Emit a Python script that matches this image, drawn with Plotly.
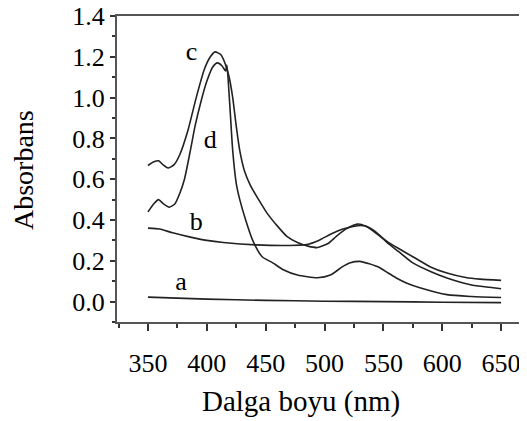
import plotly.graph_objects as go

# --- data ---
a_x = [350, 400, 450, 500, 550, 600, 650]
a_y = [0.022, 0.012, 0.006, 0.002, 0.0, -0.003, -0.005]

b_x = [350, 360, 371, 386, 400, 414, 442, 470, 485, 495, 505, 515, 528, 535, 545, 553, 563, 575, 590, 604, 624, 640, 650]
b_y = [0.36, 0.356, 0.337, 0.316, 0.30, 0.29, 0.278, 0.275, 0.28, 0.30, 0.33, 0.355, 0.372, 0.37, 0.335, 0.29, 0.245, 0.19, 0.148, 0.116, 0.083, 0.07, 0.063]

c_x = [350, 355, 359, 363, 367, 372, 377, 384, 391, 398, 403, 407, 412, 416, 419, 422, 425, 428, 432, 437, 444, 451, 460, 468, 477, 486, 494, 503, 510, 518, 528, 535, 545, 553, 563, 575, 590, 604, 620, 632, 650]
c_y = [0.667, 0.685, 0.69, 0.67, 0.655, 0.67, 0.72, 0.84, 1.00, 1.14, 1.20, 1.224, 1.21, 1.16, 1.10, 1.00, 0.86, 0.74, 0.64, 0.57, 0.50, 0.435, 0.37, 0.32, 0.29, 0.272, 0.265, 0.285, 0.32, 0.355, 0.38, 0.37, 0.33, 0.295, 0.26, 0.22, 0.17, 0.14, 0.118, 0.11, 0.104]

d_x = [350, 355, 359, 363, 368, 373, 377, 381, 386, 390, 395, 400, 405, 409, 413, 416, 417, 418, 420, 422, 425, 428, 433, 439, 447, 456, 465, 477, 494, 505, 515, 522, 530, 538, 547, 554, 561, 570, 581, 604, 625, 650]
d_y = [0.44, 0.48, 0.50, 0.48, 0.463, 0.48, 0.53, 0.60, 0.74, 0.86, 0.98, 1.08, 1.15, 1.17, 1.155, 1.13, 1.16, 1.10, 0.92, 0.74, 0.58, 0.50, 0.40, 0.30, 0.22, 0.19, 0.156, 0.13, 0.117, 0.13, 0.17, 0.19, 0.197, 0.185, 0.166, 0.14, 0.116, 0.09, 0.068, 0.034, 0.025, 0.02]

labels = ["a", "b", "c", "d"]
label_x = [378, 391, 387, 403]
label_y = [0.091, 0.385, 1.217, 0.784]

x_ticks = [350, 400, 450, 500, 550, 600, 650]
y_ticks = [0.0, 0.2, 0.4, 0.6, 0.8, 1.0, 1.2, 1.4]

x_title = "Dalga boyu (nm)"
y_title = "Absorbans"

FONT = "Liberation Serif"
LINE = dict(color="#222222", width=1.6, shape="spline", smoothing=0.6)

fig = go.Figure()
for xs, ys in [(a_x, a_y), (b_x, b_y), (c_x, c_y), (d_x, d_y)]:
    fig.add_trace(go.Scatter(x=xs, y=ys, mode="lines", line=LINE, showlegend=False, hoverinfo="skip"))

fig.add_trace(go.Scatter(x=label_x, y=label_y, mode="text", text=labels,
                         textfont=dict(family=FONT, size=26, color="black"),
                         showlegend=False, hoverinfo="skip"))

fig.update_layout(
    width=527, height=421,
    margin=dict(l=109, r=0, t=7.5, b=106.5, autoexpand=False),
    plot_bgcolor="white", paper_bgcolor="white",
    font=dict(family=FONT, size=26, color="black"),
    xaxis=dict(
        range=[323.7, 678.8], tickvals=x_ticks, ticktext=[str(v) for v in x_ticks],
        showline=True, linecolor="#555555", linewidth=2, mirror=True,
        ticks="outside", ticklen=7, tickwidth=1.5, tickcolor="#333333",
        minor=dict(dtick=25, tick0=350, ticks="outside", ticklen=4, tickwidth=1.5, tickcolor="#333333"),
        showgrid=False, zeroline=False, automargin=False,
        ticklabelstandoff=10, ticklabeloverflow="allow",
        tickfont=dict(family=FONT, size=26, color="black"),
    ),
    yaxis=dict(
        range=[-0.1, 1.4], tickvals=y_ticks, ticktext=[f"{v:.1f}" for v in y_ticks],
        showline=True, linecolor="#555555", linewidth=2,
        ticks="outside", ticklen=5, tickwidth=1.5, tickcolor="#333333",
        minor=dict(dtick=0.1, tick0=0, ticks="outside", ticklen=3, tickwidth=1.5, tickcolor="#333333"),
        showgrid=False, zeroline=False, automargin=False,
        ticklabeloverflow="allow",
        tickfont=dict(family=FONT, size=26, color="black"),
    ),
    annotations=[
        dict(text=x_title, xref="paper", yref="paper", x=(293 - 109) / 418, y=-(394 - 314.5) / 307,
             xanchor="center", yanchor="middle", showarrow=False,
             font=dict(family=FONT, size=29, color="black")),
        dict(text=y_title, xref="paper", yref="paper", x=-(109 - 16) / 418, y=(314.5 - 162) / 307,
             xanchor="center", yanchor="middle", textangle=-90, showarrow=False,
             font=dict(family=FONT, size=28, color="black")),
    ],
)

fig.write_html("out.html")
